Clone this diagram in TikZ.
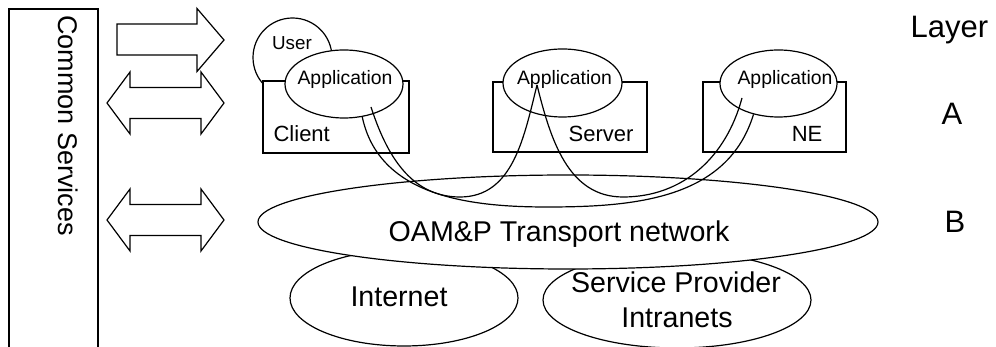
\documentclass[tikz,border=0pt]{standalone}
\usepackage{fontspec}
\setmainfont{Liberation Sans}
\usepackage{tikz}
\usetikzlibrary{shapes.geometric}

\newcommand{\appfont}{\fontsize{9.7}{11}\selectfont}
\newcommand{\userfont}{\fontsize{9.4}{11}\selectfont}
\newcommand{\boxfont}{\fontsize{11}{13}\selectfont}
\newcommand{\bigfont}{\fontsize{14.3}{17}\selectfont}
\newcommand{\layerfont}{\fontsize{15.5}{18}\selectfont}

\tikzset{
  blob/.style={draw, ellipse, fill=white, inner sep=0pt},
  unit/.style={draw, rectangle, fill=white, inner sep=0pt},
  word/.style={inner sep=0pt},
}

\begin{document}
\begin{tikzpicture}[x=0.5pt, y=0.5pt, line width=0.6pt]
\useasboundingbox (0,0) rectangle (996,347);

% the common services column
\draw (9,0) -- (9,338) -- (98,338) -- (98,0);
\node[word, rotate=-90, font=\fontsize{13.5}{16}\selectfont] (common) at (68,221.5) {Common Services};

% the arrows
\draw (117,323) -- (197,323) -- (197,338.5) -- (224,307) -- (197,275.5) -- (197,292) -- (117,292) -- cycle;
\foreach \c in {244,127}
  \draw (107,\c) -- (130,\c+31) -- (130,\c+15.5) -- (201,\c+15.5) -- (201,\c+31) -- (224,\c)
     -- (201,\c-31) -- (201,\c-15.5) -- (130,\c-15.5) -- (130,\c-31) -- cycle;

% the client
\node[draw, circle, inner sep=0pt, minimum size=39.5pt] (user) at (292.5,289.5) {};
\node[unit, minimum width=73pt, minimum height=36pt] (client) at (336,230) {};
\node[blob, minimum width=59pt, minimum height=34pt] (capp) at (344,263) {};

% the server
\node[unit, minimum width=77pt, minimum height=35pt] (server) at (570,230) {};
\node[blob, minimum width=59.5pt, minimum height=34pt] (sapp) at (562.5,264) {};

% the NE
\node[unit, minimum width=71.5pt, minimum height=35pt] (ne) at (774.5,230) {};
\node[blob, minimum width=58.5pt, minimum height=33.5pt] (neapp) at (778.5,263.5) {};

% the networks
\node[blob, minimum width=114pt, minimum height=48pt] (internet) at (404,49) {};
\node[blob, minimum width=134pt, minimum height=48pt] (intranet) at (677,47) {};
\node[blob, minimum width=310pt, minimum height=47pt] (oamp) at (568,125) {};

% the links
\coordinate (cin) at ([shift={(27,-23)}]capp.center);
\coordinate (sin) at ([shift={(-25.5,-2)}]sapp.center);
\coordinate (nin) at ([shift={(-36.5,-14.5)}]neapp.center);
\coordinate (lowl) at (460,150);
\coordinate (lowr) at (623,150);
\coordinate (lowo) at (547,140);
\draw (cin) to[out=-72, in=180] (lowl) to[out=0, in=-104] (sin);
\draw (sin) to[out=-76, in=180] (lowr) to[out=0, in=-105] (nin);
\draw (capp.-61) to[out=-78, in=180] (lowo) to[out=0, in=-107] (neapp.-129);

% the labels
\node[word, font=\userfont, anchor=base] (usertxt) at (292,297) {User};
\node[word, font=\appfont, anchor=base] (capptxt) at (345,262) {Application};
\node[word, font=\appfont, anchor=base] (sapptxt) at (564.5,262) {Application};
\node[word, font=\appfont, anchor=base] (neapptxt) at (785,262) {Application};
\node[word, font=\boxfont, anchor=base west] (clienttxt) at (273,205) {Client};
\node[word, font=\boxfont, anchor=base east] (servertxt) at (634,205) {Server};
\node[word, font=\boxfont, anchor=base east] (netxt) at (823,205) {NE};
\node[word, font=\bigfont, anchor=base] (oamptxt) at (559,105) {OAM\&P Transport network};
\node[word, font=\bigfont, anchor=base] (internettxt) at (399,40) {Internet};
\node[word, font=\bigfont, anchor=base] (intranettxt) at (676,54) {Service Provider};
\node[word, font=\bigfont, anchor=base] (intranettxt2) at (677,19) {Intranets};

% the layers
\node[word, font=\layerfont, anchor=base] (layer) at (949.5,309) {Layer};
\node[word, font=\layerfont, anchor=base] (layera) at (952,222) {A};
\node[word, font=\layerfont, anchor=base] (layerb) at (955,114) {B};

\end{tikzpicture}
\end{document}
